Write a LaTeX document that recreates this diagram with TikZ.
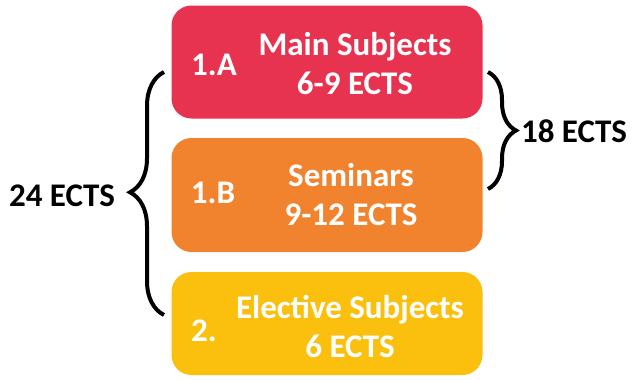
\documentclass[tikz,border=0pt]{standalone}
\usepackage{fontspec}
\setmainfont{Carlito}
\usetikzlibrary{decorations.pathreplacing}
\definecolor{cred}{RGB}{232,51,80}
\definecolor{corange}{RGB}{242,131,46}
\definecolor{cyellow}{RGB}{251,192,13}
\tikzset{
  box/.style={draw=none, rounded corners=20pt, minimum width=311pt, inner sep=0pt},
  boxtext/.style={text=white, font=\fontsize{33}{39}\selectfont\bfseries, align=center, inner sep=0pt},
  sidetext/.style={text=black, font=\fontsize{33}{39}\selectfont\bfseries, inner sep=0pt},
  bracestyle/.style={draw=black, line width=4pt, decorate},
}
\begin{document}
\begin{tikzpicture}[x=1pt,y=-1pt]
\useasboundingbox (0,0) rectangle (637,380);
% boxes
\node[box, fill=cred, minimum height=113pt] (ra) at (327,62) {};
\node[box, fill=corange, minimum height=114pt] (rb) at (327,195) {};
\node[box, fill=cyellow, minimum height=103pt] (rc) at (327,323.5) {};
% box texts
\node[boxtext] (la) at (214,65) {1.A};
\node[boxtext] (ta) at (355,64) {Main Subjects\\6-9 ECTS};
\node[boxtext] (lb) at (213,193) {1.B};
\node[boxtext] (tb) at (351,195) {Seminars\\9-12 ECTS};
\node[boxtext] (lc) at (204,331) {2.};
\node[boxtext] (tc) at (350,327) {Elective Subjects\\6 ECTS};
% braces
\coordinate (lbtop) at (164,72);
\coordinate (lbbot) at (164,315);
\coordinate (rbtop) at (488,72);
\coordinate (rbbot) at (488,189);
\draw[bracestyle, decoration={brace, amplitude=34pt, aspect=0.505}] (lbbot) -- (lbtop);
\draw[bracestyle, decoration={brace, amplitude=28pt, aspect=0.5}] (rbtop) -- (rbbot);
\node[sidetext] (l24) at (62,196) {24 ECTS};
\node[sidetext] (l18) at (574,131) {18 ECTS};
\end{tikzpicture}
\end{document}
